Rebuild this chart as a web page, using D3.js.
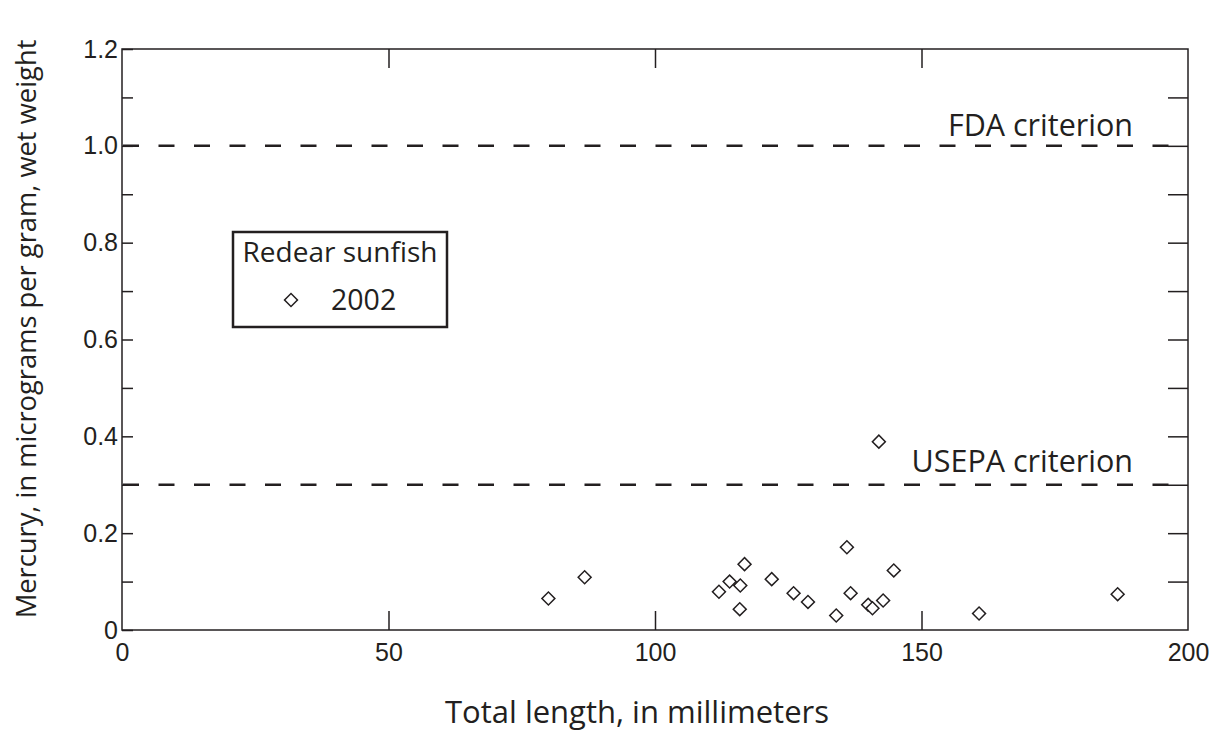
<!DOCTYPE html>
<html lang="en">
<head>
  <meta charset="UTF-8">
  <title>Redear sunfish mercury</title>
  <script src="https://d3js.org/d3.v7.min.js"></script>
  <style>
    body { margin: 0; background: white; }
    svg { display: block; font-family: "Open Sans", sans-serif; }
    .tick text { fill: #231f20; }
  </style>
</head>
<body>
  <div id="vis"></div>

  <script>
    // Redear sunfish, 2002 -- total length (mm) and mercury (ug/g wet weight)
    const lengths = [80.0, 86.8, 112.0, 114.0, 116.0, 116.8, 115.9, 121.9, 126.0, 128.7,
                     134.0, 136.0, 136.7, 140.0, 140.8, 142.8, 144.8, 142.0, 160.8, 186.8];
    const mercury = [0.065, 0.109, 0.079, 0.100, 0.092, 0.136, 0.043, 0.105, 0.076, 0.058,
                     0.030, 0.171, 0.076, 0.052, 0.045, 0.061, 0.123, 0.389, 0.034, 0.074];

    const criteria = [1.0, 0.3];
    const criteriaLabels = ["FDA criterion", "USEPA criterion"];

    const xTicks = [0, 50, 100, 150, 200];
    const xInnerTicks = [50, 100, 150];
    const yMajorTicks = [0, 0.2, 0.4, 0.6, 0.8, 1.0, 1.2];
    const yAllTicks = [0.1, 0.2, 0.3, 0.4, 0.5, 0.6, 0.7, 0.8, 0.9, 1.0, 1.1];

    const legendTitle = "Redear sunfish";
    const legendItem = "2002";

    const W = 1209, H = 734;
    const ink = "#231f20";

    const svg = d3.select("#vis").append("svg")
      .attr("width", W)
      .attr("height", H);

    const x = d3.scaleLinear().domain([0, 200]).range([122, 1188]);
    const y = d3.scaleLinear().domain([0, 1.2]).range([630, 49]);

    const fmtY = d => d === 0 ? "0" : d3.format(".1f")(d);

    // left axis: short inward ticks every 0.1, labels every 0.2
    svg.append("g")
      .attr("transform", `translate(${x(0)},0)`)
      .call(d3.axisLeft(y).tickValues(yAllTicks.concat([0, 1.2])).tickSizeInner(-11).tickSizeOuter(0).tickPadding(4)
        .tickFormat(d => yMajorTicks.some(v => Math.abs(v - d) < 1e-9) ? fmtY(d) : ""))
      .call(g => g.select(".domain").remove())
      .call(g => g.selectAll(".tick text").style("font-size", "25px"));

    // right axis: longer inward ticks, no labels
    svg.append("g")
      .attr("transform", `translate(${x(200)},0)`)
      .call(d3.axisRight(y).tickValues(yAllTicks).tickSizeInner(-20).tickSizeOuter(0).tickFormat(""))
      .call(g => g.select(".domain").remove());

    // bottom axis
    svg.append("g")
      .attr("transform", `translate(0,${y(0)})`)
      .call(d3.axisBottom(x).tickValues(xTicks).tickSizeInner(-19).tickSizeOuter(0).tickPadding(13)
        .tickFormat(d3.format("d")))
      .call(g => g.select(".domain").remove())
      .call(g => g.selectAll(".tick line").filter(d => !xInnerTicks.includes(d)).remove())
      .call(g => g.selectAll(".tick text").style("font-size", "25px"));

    // top axis
    svg.append("g")
      .attr("transform", `translate(0,${y(1.2)})`)
      .call(d3.axisTop(x).tickValues(xInnerTicks).tickSizeInner(-19).tickSizeOuter(0).tickFormat(""))
      .call(g => g.select(".domain").remove());

    svg.selectAll(".tick line").attr("stroke", ink).attr("stroke-width", 1.5);

    // frame
    svg.append("rect")
      .attr("x", x(0))
      .attr("y", y(1.2))
      .attr("width", x(200) - x(0))
      .attr("height", y(0) - y(1.2))
      .attr("fill", "none")
      .attr("stroke", ink)
      .attr("stroke-width", 1.5);

    // criterion lines
    svg.selectAll(".crit")
      .data(criteria)
      .enter().append("line")
      .attr("class", "crit")
      .attr("x1", x(0) + 1)
      .attr("x2", x(200))
      .attr("y1", d => y(d))
      .attr("y2", d => y(d))
      .attr("stroke", ink)
      .attr("stroke-width", 2.5)
      .attr("stroke-dasharray", "16,19.5");

    svg.selectAll(".critLabel")
      .data(criteria)
      .enter().append("text")
      .attr("class", "critLabel")
      .attr("x", 1133)
      .attr("y", (d, i) => y(d) - (i === 0 ? 10 : 13))
      .attr("text-anchor", "end")
      .style("font-size", "30.5px")
      .attr("fill", ink)
      .text((d, i) => criteriaLabels[i]);

    // points
    const diamond = d3.symbol(d3.symbolSquare, 84);
    svg.selectAll(".pt")
      .data(lengths.map((l, i) => ({ l, m: mercury[i] })))
      .enter().append("path")
      .attr("class", "pt")
      .attr("d", diamond)
      .attr("transform", d => `translate(${x(d.l)},${y(d.m)}) rotate(45)`)
      .attr("fill", "white")
      .attr("stroke", ink)
      .attr("stroke-width", 1.5);

    // legend
    const lg = svg.append("g");
    lg.append("rect")
      .attr("x", 233).attr("y", 232)
      .attr("width", 214).attr("height", 95)
      .attr("fill", "white")
      .attr("stroke", ink)
      .attr("stroke-width", 2.5);
    lg.append("text")
      .attr("x", 340).attr("y", 262)
      .attr("text-anchor", "middle")
      .style("font-size", "28px")
      .attr("fill", ink)
      .text(legendTitle);
    lg.append("path")
      .attr("d", diamond)
      .attr("transform", "translate(291,300) rotate(45)")
      .attr("fill", "white")
      .attr("stroke", ink)
      .attr("stroke-width", 1.5);
    lg.append("text")
      .attr("x", 331).attr("y", 310)
      .style("font-size", "28.5px")
      .attr("fill", ink)
      .text(legendItem);

    // axis titles
    svg.append("text")
      .attr("x", 637)
      .attr("y", 723)
      .attr("text-anchor", "middle")
      .style("font-size", "31px")
      .attr("fill", ink)
      .text("Total length, in millimeters");

    svg.append("text")
      .attr("transform", "translate(36,329) rotate(-90)")
      .attr("text-anchor", "middle")
      .style("font-size", "27.3px")
      .attr("fill", ink)
      .text("Mercury, in micrograms per gram, wet weight");
  </script>
</body>
</html>
